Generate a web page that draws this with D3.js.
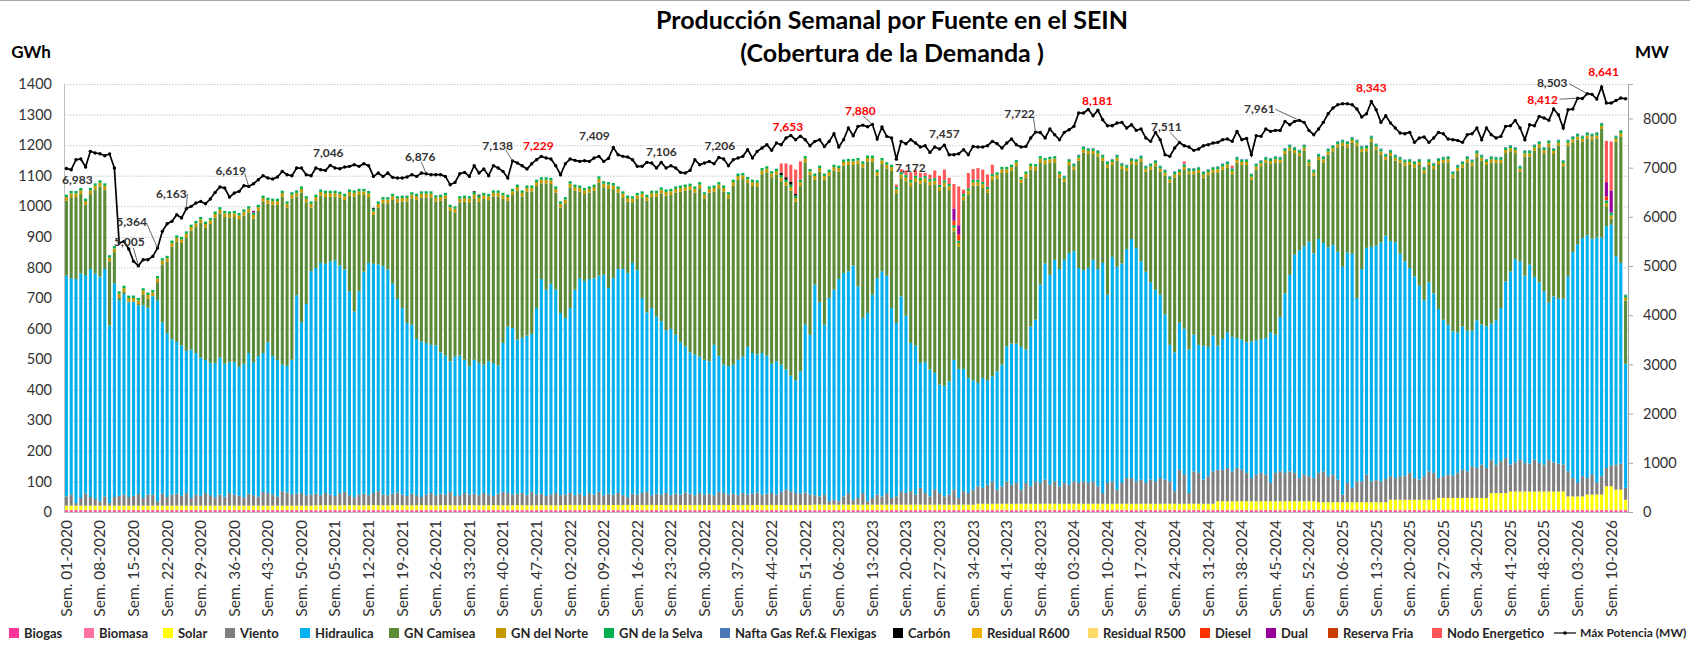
<!DOCTYPE html>
<html lang="es">
<head>
<meta charset="utf-8">
<title>Producción Semanal por Fuente en el SEIN</title>
<script src="https://cdn.jsdelivr.net/npm/d3@7/dist/d3.min.js"></script>
<style>
  body { margin: 0; background: #fff; }
  #chart text { font-family: Lato, "Open Sans", "DejaVu Sans", sans-serif; }
</style>
</head>
<body>
<svg id="chart"></svg>
<script>
// Weeks shown: year and number of weeks plotted in each year
const years = [2020, 2021, 2022, 2023, 2024, 2025, 2026];
const weeksPerYear = [52, 52, 52, 52, 53, 52, 13];

// Labels printed on the category axis (every 7 weeks)
const xTickLabels = [
  "Sem. 01-2020", "Sem. 08-2020", "Sem. 15-2020", "Sem. 22-2020", "Sem. 29-2020", "Sem. 36-2020", "Sem. 43-2020", "Sem. 50-2020",
  "Sem. 05-2021", "Sem. 12-2021", "Sem. 19-2021", "Sem. 26-2021", "Sem. 33-2021", "Sem. 40-2021", "Sem. 47-2021",
  "Sem. 02-2022", "Sem. 09-2022", "Sem. 16-2022", "Sem. 23-2022", "Sem. 30-2022", "Sem. 37-2022", "Sem. 44-2022", "Sem. 51-2022",
  "Sem. 06-2023", "Sem. 13-2023", "Sem. 20-2023", "Sem. 27-2023", "Sem. 34-2023", "Sem. 41-2023", "Sem. 48-2023",
  "Sem. 03-2024", "Sem. 10-2024", "Sem. 17-2024", "Sem. 24-2024", "Sem. 31-2024", "Sem. 38-2024", "Sem. 45-2024", "Sem. 52-2024",
  "Sem. 06-2025", "Sem. 13-2025", "Sem. 20-2025", "Sem. 27-2025", "Sem. 34-2025", "Sem. 41-2025", "Sem. 48-2025",
  "Sem. 03-2026", "Sem. 10-2026"
];
const leftTicks = [0, 100, 200, 300, 400, 500, 600, 700, 800, 900, 1000, 1100, 1200, 1300, 1400];
const rightTicks = [0, 1000, 2000, 3000, 4000, 5000, 6000, 7000, 8000];

// Weekly energy by source (GWh), one row block per year
const biogas = [
  3,3,3,3,3,3,3,3,3,3, 3,3,3,3,3,3,3,3,3,3, 3,3,3,3,3,3,3,3,3,3, 3,3,3,3,3,3,3,3,3,3, 3,3,3,3,3,3,3,3,3,3, 3,3,
  3,3,3,3,3,3,3,3,3,3, 3,3,3,3,3,3,3,3,3,3, 3,3,3,3,3,3,3,3,3,3, 3,3,3,3,3,3,3,3,3,3, 3,3,3,3,3,3,3,3,3,3, 3,3,
  3,3,3,3,3,3,3,3,3,3, 3,3,3,3,3,3,3,3,3,3, 3,3,3,3,3,3,3,3,3,3, 3,3,3,3,3,3,3,3,3,3, 3,3,3,3,3,3,3,3,3,3, 3,3,
  3,3,3,3,3,3,3,3,3,3, 3,3,3,3,3,3,3,3,3,3, 3,3,3,3,3,3,3,3,3,3, 3,3,3,3,3,3,3,3,3,3, 3,3,3,3,3,3,3,3,3,3, 3,3,
  3,3,3,3,3,3,3,3,3,3, 3,3,3,3,3,3,3,3,3,3, 3,3,3,3,3,3,3,3,3,3, 3,3,3,3,3,3,3,3,3,3, 3,3,3,3,3,3,3,3,3,3, 3,3,3,
  3,3,3,3,3,3,3,3,3,3, 3,3,3,3,3,3,3,3,3,3, 3,3,3,3,3,3,3,3,3,3, 3,3,3,3,3,3,3,3,3,3, 3,3,3,3,3,3,3,3,3,3, 3,3,
  3,3,3,3,3,3,3,3,3,3, 3,3,3
];
const biomasa = [
  4,4,4,4,4,4,4,4,4,4, 4,4,4,4,4,4,4,4,4,4, 4,4,4,4,4,4,4,4,4,4, 4,4,4,4,4,4,4,4,4,4, 4,4,4,4,4,4,4,4,4,4, 4,4,
  4,4,4,4,4,4,4,4,4,4, 4,4,4,4,4,4,4,4,4,4, 4,4,4,4,4,4,4,4,4,4, 4,4,4,4,4,4,4,4,4,4, 4,4,4,4,4,4,4,4,4,4, 4,4,
  4,4,4,4,4,4,4,4,4,4, 4,4,4,4,4,4,4,4,4,4, 4,4,4,4,4,4,4,4,4,4, 4,4,4,4,4,4,4,4,4,4, 4,4,4,4,4,4,4,4,4,4, 4,4,
  4,4,4,4,4,4,4,4,4,4, 4,4,4,4,4,4,4,4,4,4, 4,4,4,4,4,4,4,4,4,4, 4,4,4,4,4,4,4,4,4,4, 4,4,4,4,4,4,4,4,4,4, 4,4,
  4,4,4,4,4,4,4,4,4,4, 4,4,4,4,4,4,4,4,4,4, 4,4,4,4,4,4,4,4,4,4, 4,4,4,4,4,4,4,4,4,4, 4,4,4,4,4,4,4,4,4,4, 4,4,4,
  4,4,4,4,4,4,4,4,4,4, 4,4,4,4,4,4,4,4,4,4, 4,4,4,4,4,4,4,4,4,4, 4,4,4,4,4,4,4,4,4,4, 4,4,4,4,4,4,4,4,4,4, 4,4,
  4,4,4,4,4,4,4,4,4,4, 4,4,4
];
const solar = [
  14,14,14,14,14,14,14,14,14,14, 14,14,14,14,14,14,14,14,14,14, 14,14,14,14,14,14,14,14,14,14, 14,14,14,14,14,14,14,14,14,14, 14,14,14,14,14,14,14,14,14,14, 14,14,
  15,15,15,15,15,15,15,15,15,15, 15,15,15,15,15,15,15,15,15,15, 15,15,15,15,15,15,15,15,15,15, 15,15,15,15,15,15,15,15,15,15, 15,15,15,15,15,15,15,15,15,15, 15,15,
  16,16,16,16,16,16,16,16,16,16, 16,16,16,16,16,16,16,16,16,16, 16,16,16,16,16,16,16,16,16,16, 16,16,16,16,16,16,16,16,16,16, 16,16,16,16,16,16,16,16,16,16, 16,16,
  17,17,17,17,17,17,17,17,17,17, 17,17,17,17,17,17,17,17,17,17, 17,17,17,17,17,17,17,17,17,17, 17,17,17,17,20,20,20,20,20,20, 20,20,20,20,20,20,20,20,20,20, 20,20,
  20,20,20,20,20,20,20,20,20,20, 20,20,20,20,20,20,20,20,20,20, 20,20,20,20,20,20,20,20,20,20, 20,20,28,28,28,28,28,28,28,28, 28,28,28,28,28,28,28,28,28,28, 28,28,28,
  25,25,25,25,25,25,25,25,25,25, 25,25,25,25,25,33,33,33,33,33, 33,33,33,33,33,39,39,39,39,39, 39,39,39,39,39,39,55,55,55,55, 60,60,60,60,60,60,60,60,60,60, 60,60,
  44,44,44,44,50,50,50,50,77,77, 66,66,33
];
const viento = [
  30,36,8,25,39,28,22,14,30,8, 28,32,36,28,32,38,25,36,36,14, 39,28,36,39,32,41,25,36,32,41, 34,27,36,29,41,36,32,27,39,34, 29,44,41,36,29,47,43,37,39,41, 34,36,
  38,33,40,35,30,40,44,33,26,35, 38,33,40,46,35,33,38,42,35,30, 38,33,27,35,40,33,38,35,44,30, 33,40,35,38,33,40,35,30,38,44, 40,35,38,40,33,44,35,38,30,35, 40,33,
  34,39,32,37,29,39,34,43,32,37, 34,39,32,25,37,34,39,43,32,37, 34,39,32,37,34,41,37,32,39,34, 37,32,43,39,34,37,32,39,34,37, 41,34,37,39,34,43,50,45,39,37, 41,34,
  31,27,33,11,16,11,27,38,16,22, 38,11,22,33,27,38,22,27,44,38, 44,33,55,38,27,49,38,27,33,49, 22,44,38,49,57,52,62,73,46,57, 73,62,68,46,68,57,73,68,79,62, 73,57,
  68,62,73,68,73,68,73,57,35,68, 73,46,68,84,84,73,79,68,79,73, 84,79,73,41,111,95,35,106,101,79, 90,106,103,103,109,98,109,103,93,76, 87,93,87,60,93,98,93,98,93,76, 87,82,76,
  96,101,85,90,74,25,63,47,68,68, 90,68,72,68,76,77,71,77,79,88, 71,66,77,93,88,65,71,76,73,82, 92,87,103,98,109,98,109,93,104,115, 88,95,104,93,91,104,93,88,104,95, 91,88,
  82,60,44,66,54,65,40,60,60,68, 82,85,39
];
const hidraulica = [
  722,708,733,734,715,746,737,735,744,581, 699,640,656,637,635,617,630,611,649,657, 560,536,508,496,492,465,486,463,452,435, 433,439,448,435,428,433,422,437,460,435, 460,455,493,453,447,414,414,440,649,559, 625,731,
  738,760,750,763,771,744,727,667,608,665, 726,760,750,742,747,738,687,633,610,566, 553,511,509,496,485,490,462,455,427,457, 457,436,420,438,432,420,436,435,419,487, 545,545,504,508,522,517,610,702,675,690, 665,596,
  578,605,672,705,703,700,708,707,721,673, 708,733,740,734,755,734,638,587,612,580, 567,532,544,520,498,478,462,460,447,441, 433,492,445,420,420,422,443,447,483,460, 451,463,451,423,436,416,393,378,369,400, 549,523,
  689,635,556,665,687,727,731,725,766,692, 573,616,665,708,736,711,621,567,637,580, 485,487,408,428,415,382,355,362,370,425, 422,400,376,358,338,359,342,344,387,398, 442,462,456,467,436,523,529,649,707,686, 725,711,
  730,758,753,703,691,703,725,711,753,616, 734,729,718,749,782,764,714,691,645,627, 600,540,447,454,481,478,469,447,419,438, 423,444,406,428,444,440,425,426,427,447, 440,438,447,493,452,505,587,642,714,745, 747,767,735,
  765,747,749,751,745,745,754,766,600,695, 742,767,767,782,796,769,771,728,701,670, 660,634,576,618,587,553,512,491,472,459, 469,460,444,483,458,463,445,472,501,577, 632,665,649,613,651,598,591,567,514,543, 540,543,
  638,739,781,779,794,772,801,781,791,788, 682,657,406
];
const gnCamisea = [
  245,265,268,260,230,245,275,295,260,210, 102,9,7,2,0,4,36,30,0,60, 190,233,303,329,335,371,388,412,440,433, 454,476,472,480,473,475,483,485,460,470, 475,495,453,495,508,549,518,528,323,424, 333,208,
  220,220,219,211,208,222,228,313,376,315, 251,215,160,186,206,217,274,316,348,397, 413,455,471,476,482,471,496,512,492,471, 501,517,536,528,528,542,527,545,553,471, 411,435,487,462,471,465,400,313,348,326, 318,345,
  375,395,324,283,285,283,286,305,286,326, 291,250,234,233,198,233,329,365,364,391, 418,441,438,465,493,509,532,530,550,528, 552,501,548,566,549,585,589,580,536,547, 550,585,600,610,610,600,601,605,584,607, 531,522,
  343,427,474,400,389,351,351,348,329,400, 492,495,435,335,351,351,449,425,387,440, 513,536,587,589,603,617,633,652,626,420, 400,552,601,636,645,622,613,642,631,627, 567,565,580,536,563,513,489,400,325,367, 319,299,
  255,288,267,351,385,373,346,368,334,416, 301,347,309,256,245,271,326,327,369,404, 402,454,531,572,483,519,574,525,562,550, 562,532,567,554,539,532,573,571,580,529, 558,565,573,550,564,504,456,407,332,309, 313,249,254,
  259,264,303,307,342,396,344,362,498,383, 316,344,314,287,248,279,267,297,313,337, 356,395,416,384,407,474,513,531,503,529, 520,551,540,536,536,528,528,515,475,420, 393,347,293,390,354,413,442,452,511,466, 500,433,
  427,359,342,315,317,324,324,355,65,20, 374,414,206
];
const gnNorte = [
  12,12,12,12,12,12,12,12,12,12, 12,12,12,12,12,12,12,12,12,12, 12,12,12,12,12,12,12,12,12,12, 12,12,12,12,12,12,12,12,12,12, 12,12,12,12,12,12,12,12,12,12, 12,12,
  12,12,12,12,12,12,12,12,12,12, 12,12,12,12,12,12,12,12,12,12, 12,12,12,12,12,12,12,12,12,12, 12,12,12,12,12,12,12,12,12,12, 12,12,12,12,12,12,12,12,12,12, 12,12,
  12,12,12,12,12,12,12,12,12,12, 12,12,12,12,12,12,12,12,12,12, 12,12,12,12,12,12,12,12,12,12, 12,12,12,12,12,12,12,12,12,12, 12,12,12,12,12,12,12,12,12,12, 12,12,
  12,12,12,12,12,12,12,12,12,12, 12,12,12,12,12,12,12,12,12,12, 12,12,12,12,12,12,12,12,12,12, 12,12,12,12,12,12,12,12,12,12, 12,12,12,12,12,12,12,12,12,12, 12,12,
  10,10,10,10,10,10,10,10,10,10, 10,10,10,10,10,10,10,10,10,10, 10,10,10,10,10,10,10,10,10,10, 10,10,10,10,10,10,10,10,10,10, 10,10,10,10,10,10,10,10,10,10, 10,10,10,
  10,10,10,10,10,10,10,10,10,10, 10,10,10,10,10,10,10,10,10,10, 10,10,10,10,10,10,10,10,10,10, 10,10,10,10,10,10,10,10,10,10, 10,10,10,10,10,10,10,10,10,10, 10,10,
  10,10,10,10,10,10,10,10,10,10, 10,10,10
];
const gnSelva = [
  8,8,8,8,8,8,8,8,8,8, 8,8,8,8,8,8,8,8,8,8, 8,8,8,8,8,8,8,8,8,8, 8,8,8,8,8,8,8,8,8,8, 8,8,8,8,8,8,8,8,8,8, 8,8,
  8,8,8,8,8,8,8,8,8,8, 8,8,8,8,8,8,8,8,8,8, 8,8,8,8,8,8,8,8,8,8, 8,8,8,8,8,8,8,8,8,8, 8,8,8,8,8,8,8,8,8,8, 8,8,
  8,8,8,8,8,8,8,8,8,8, 8,8,8,8,8,8,8,8,8,8, 8,8,8,8,8,8,8,8,8,8, 8,8,8,8,8,8,8,8,8,8, 8,8,8,8,8,8,8,8,8,8, 8,8,
  8,8,8,8,8,8,8,8,8,8, 8,8,8,8,8,8,8,8,8,8, 8,8,8,8,8,8,8,8,8,8, 8,8,8,8,8,8,8,8,8,8, 8,8,8,8,8,8,8,8,8,8, 8,8,
  8,8,8,8,8,8,8,8,8,8, 8,8,8,8,8,8,8,8,8,8, 8,8,8,8,8,8,8,8,8,8, 8,8,8,8,8,8,8,8,8,8, 8,8,8,8,8,8,8,8,8,8, 8,8,8,
  8,8,8,8,8,8,8,8,8,8, 8,8,8,8,8,8,8,8,8,8, 8,8,8,8,8,8,8,8,8,8, 8,8,8,8,8,8,8,8,8,8, 8,8,8,8,8,8,8,8,8,8, 8,8,
  8,8,8,8,8,8,8,8,8,8, 8,8,8
];
const nafta = [
  0,0,0,0,0,0,0,0,0,0, 0,0,0,0,0,0,0,0,0,0, 0,0,0,0,0,0,0,0,0,0, 0,0,0,0,0,0,0,0,0,0, 0,0,0,0,0,0,0,0,0,0, 0,0,
  0,0,0,0,0,0,0,0,0,0, 0,0,0,0,0,0,0,0,0,0, 0,0,0,0,0,0,0,0,0,0, 0,0,0,0,0,0,0,0,0,0, 0,0,0,0,0,0,0,0,0,0, 0,0,
  0,0,0,0,0,0,0,0,0,0, 0,0,0,0,0,0,0,0,0,0, 0,0,0,0,0,0,0,0,0,0, 0,0,0,0,0,0,0,0,0,0, 0,0,0,0,0,0,0,0,0,0, 0,0,
  0,0,0,0,0,0,0,0,0,0, 0,0,0,0,0,0,0,0,0,0, 0,0,0,0,0,0,0,0,0,0, 0,0,0,0,0,0,0,0,0,0, 0,0,0,0,0,0,0,0,0,0, 0,0,
  2,2,2,2,2,2,2,2,2,2, 2,2,2,2,2,2,2,2,2,2, 2,2,2,2,2,2,2,2,2,2, 2,2,2,2,2,2,2,2,2,2, 2,2,2,2,2,2,2,2,2,2, 2,2,2,
  2,2,2,2,2,2,2,2,2,2, 2,2,2,2,2,2,2,2,2,2, 2,2,2,2,2,2,2,2,2,2, 2,2,2,2,2,2,2,2,2,2, 2,2,2,2,2,2,2,2,2,2, 2,2,
  2,2,2,2,2,2,2,2,2,2, 2,2,2
];
// Occasional sources: [week index, GWh]
const carbon = [[64, 3], [85, 3], [86, 3], [149, 8], [150, 8], [151, 10], [152, 5]];
const residualR600 = [];
const residualR500 = [];
const diesel = [[185, 15], [186, 20], [321, 12]];
const dual = [[39, 5], [185, 40], [186, 30], [321, 47], [322, 72]];
const reservaFria = [];
const nodoEnergetico = [
  [149, 30], [150, 45], [151, 55], [152, 80], [153, 60],
  [173, 8], [174, 10], [175, 15], [176, 25], [177, 20], [178, 15], [179, 10], [180, 15], [181, 25], [182, 30], [183, 35], [184, 20],
  [185, 80], [186, 127], [187, 15], [188, 50], [189, 35], [190, 38], [191, 40], [192, 40], [193, 30],
  [233, 8], [243, 8], [321, 135], [322, 160]
];

// Weekly maximum demand (MW)
const maxPotencia = [
  6983,6958,7161,7175,7012,7331,7297,7283,7243,7276, 6992,5467,5501,5346,5095,5005,5129,5129,5196,5364, 5705,5860,5908,6043,5976,6163,6213,6280,6314,6267, 6362,6497,6606,6585,6402,6484,6518,6633,6619,6673, 6755,6836,6789,6768,6809,6924,6856,6836,6992,6992, 6856,6836,
  6992,6958,6944,7046,6992,6978,7012,7026,7060,7026, 7080,7039,6822,6890,6822,6890,6802,6789,6789,6809, 6856,6822,6890,6876,6856,6856,6856,6822,6653,6700, 6876,6904,6822,7039,6890,6972,6836,7039,6992,6924, 6789,7138,7093,7039,6972,7080,7161,7229,7195,7175, 7039,6856,
  7080,7175,7148,7127,7141,7127,7195,7229,7127,7188, 7409,7263,7229,7215,7161,7026,7026,7107,7093,6992, 7106,6992,7039,6992,6904,6890,6944,7161,7060,7093, 7127,7080,7206,7175,7039,7161,7195,7229,7365,7195, 7331,7398,7466,7351,7500,7466,7602,7653,7568,7640, 7568,7446,
  7534,7568,7430,7534,7690,7419,7568,7805,7649,7839, 7865,7830,7880,7581,7825,7636,7602,7172,7534,7486, 7568,7500,7419,7446,7310,7419,7378,7457,7263,7263, 7283,7365,7263,7432,7419,7419,7446,7534,7486,7398, 7500,7581,7466,7419,7432,7602,7722,7715,7602,7785, 7669,7568,
  7717,7771,7839,8110,8110,8181,8056,8165,7974,7852, 7852,7907,7920,7805,7873,7757,7785,7602,7534,7717, 7568,7263,7229,7398,7511,7446,7419,7351,7378,7446, 7466,7500,7514,7568,7581,7534,7737,7568,7595,7263, 7649,7636,7785,7737,7757,7757,7940,7873,7940,7961, 7920,7757,7669,
  7785,7920,8096,8211,8279,8299,8299,8279,8191,8028, 8096,8343,8178,7920,8056,7907,7805,7703,7690,7717, 7514,7602,7622,7514,7602,7717,7690,7581,7568,7554, 7514,7669,7690,7805,7568,7805,7669,7602,7636,7839, 7852,7961,7805,7568,7873,7852,8042,8008,7961,8191, 8076,7805,
  8178,8191,8412,8405,8503,8490,8394,8641,8313,8313, 8367,8414,8400
];
// Weeks whose maximum is annotated; red ones are printed in red
const labelWeeks = [0, 15, 19, 25, 38, 55, 75, 93, 99, 114, 124, 136, 151, 168, 173, 183, 202, 213, 232, 257, 272, 315, 317, 320];
const redLabelWeeks = [99, 151, 168, 213, 272, 315, 320];

// ---------------------------------------------------------------------------
const width = 1690;
const height = 649;
const margin = { top: 84, right: 62, bottom: 137, left: 64 };
const plotRight = width - margin.right;
const plotBottom = height - margin.bottom;

const weekNames = [];
years.forEach((y, k) => {
    for (let w = 1; w <= weeksPerYear[k]; w++) weekNames.push(`Sem. ${String(w).padStart(2, '0')}-${y}`);
});
const N = weekNames.length;

// expand [index, value] lists into full weekly series
function expand(pairs) {
    const out = new Array(N).fill(0);
    pairs.forEach(([i, v]) => { out[i] = v; });
    return out;
}

const series = [
    { key: 'Biogas', values: biogas, color: '#FF3399' },
    { key: 'Biomasa', values: biomasa, color: '#FF6FA0' },
    { key: 'Solar', values: solar, color: '#FFFF00' },
    { key: 'Viento', values: viento, color: '#7F7F7F' },
    { key: 'Hidraulica', values: hidraulica, color: '#00B0F0' },
    { key: 'GN Camisea', values: gnCamisea, color: '#5B8B36' },
    { key: 'GN del Norte', values: gnNorte, color: '#C59800' },
    { key: 'GN de la Selva', values: gnSelva, color: '#00B050' },
    { key: 'Nafta Gas Ref.& Flexigas', values: nafta, color: '#4A78B5' },
    { key: 'Carbón', values: expand(carbon), color: '#000000' },
    { key: 'Residual R600', values: expand(residualR600), color: '#F2B300' },
    { key: 'Residual R500', values: expand(residualR500), color: '#FFD966' },
    { key: 'Diesel', values: expand(diesel), color: '#FF3300' },
    { key: 'Dual', values: expand(dual), color: '#990099' },
    { key: 'Reserva Fria', values: expand(reservaFria), color: '#C83C00' },
    { key: 'Nodo Energetico', values: expand(nodoEnergetico), color: '#FF5757' }
];
series.forEach(s => {
    if (s.values.length !== N) throw new Error(`${s.key}: ${s.values.length} values, expected ${N}`);
});
if (maxPotencia.length !== N) throw new Error(`maxPotencia: ${maxPotencia.length}`);

const rows = weekNames.map((w, i) => {
    const r = { week: w, idx: i };
    series.forEach(s => { r[s.key] = s.values[i]; });
    return r;
});
const stacked = d3.stack().keys(series.map(s => s.key))(rows);

const svg = d3.select('#chart')
    .attr('width', width)
    .attr('height', height)
    .attr('viewBox', `0 0 ${width} ${height}`);

const xScale = d3.scaleBand()
    .domain(d3.range(N))
    .range([margin.left, plotRight])
    .paddingInner(0.36)
    .paddingOuter(0.18);
const yLeft = d3.scaleLinear().domain([0, 1400]).range([plotBottom, margin.top]);
const yRight = d3.scaleLinear().domain([0, 8700]).range([plotBottom, margin.top]);
const xCenter = i => xScale(i) + xScale.bandwidth() / 2;

// chart border line at top
svg.append('line')
    .attr('x1', 0).attr('x2', width).attr('y1', 0.5).attr('y2', 0.5)
    .attr('stroke', '#A6A6A6');

// gridlines
svg.append('g')
    .attr('transform', `translate(${margin.left},0)`)
    .call(d3.axisLeft(yLeft).tickValues(leftTicks.slice(1)).tickSize(-(plotRight - margin.left)).tickFormat(''))
    .call(g => g.select('.domain').remove())
    .selectAll('line')
    .attr('stroke', '#C8C8C8')
    .attr('stroke-dasharray', '1.5,1.5');

// stacked bars
const layers = svg.append('g').attr('class', 'bars')
    .selectAll('g')
    .data(stacked)
    .join('g')
    .attr('fill', (d, i) => series[i].color);

layers.selectAll('rect')
    .data(d => d.filter(p => p[1] - p[0] > 0))
    .join('rect')
    .attr('x', d => xScale(d.data.idx))
    .attr('width', xScale.bandwidth())
    .attr('y', d => yLeft(d[1]))
    .attr('height', d => yLeft(d[0]) - yLeft(d[1]));

// axes
const leftAxis = svg.append('g')
    .attr('transform', `translate(${margin.left},0)`)
    .call(d3.axisLeft(yLeft).tickValues(leftTicks).tickSize(0).tickPadding(12).tickFormat(d3.format('d')));
leftAxis.select('.domain').attr('stroke', '#BFBFBF');
leftAxis.selectAll('text').attr('font-size', 14.5).attr('fill', '#333');

const rightAxis = svg.append('g')
    .attr('transform', `translate(${plotRight},0)`)
    .call(d3.axisRight(yRight).tickValues(rightTicks).tickSize(5).tickPadding(10).tickFormat(d3.format('d')));
rightAxis.select('.domain').attr('stroke', '#A6A6A6');
rightAxis.selectAll('line').attr('stroke', '#A6A6A6');
rightAxis.selectAll('text').attr('font-size', 14.5).attr('fill', '#333');

svg.append('line')
    .attr('x1', margin.left).attr('x2', plotRight)
    .attr('y1', plotBottom + 0.5).attr('y2', plotBottom + 0.5)
    .attr('stroke', '#BFBFBF');

const xAxis = svg.append('g')
    .attr('transform', `translate(0,${plotBottom})`)
    .call(d3.axisBottom(xScale)
        .tickValues(xTickLabels.map(t => weekNames.indexOf(t)))
        .tickFormat(i => weekNames[i])
        .tickSize(0));
xAxis.select('.domain').remove();
xAxis.selectAll('text')
    .attr('transform', 'rotate(-90)')
    .attr('text-anchor', 'end')
    .attr('x', -8)
    .attr('y', 0)
    .attr('dy', '0.35em')
    .attr('font-size', 15.5)
    .attr('fill', '#333');

// maximum demand line
const line = d3.line()
    .x((d, i) => xCenter(i))
    .y(d => yRight(d));
svg.append('path')
    .datum(maxPotencia)
    .attr('fill', 'none')
    .attr('stroke', '#000')
    .attr('stroke-width', 1.7)
    .attr('d', line);
svg.append('g')
    .selectAll('circle')
    .data(maxPotencia)
    .join('circle')
    .attr('cx', (d, i) => xCenter(i))
    .attr('cy', d => yRight(d))
    .attr('r', 1.7)
    .attr('fill', '#000');

// value labels: offset of label centre from the point, optional leader start
const labelLayout = {
    0: [11, 11], 15: [-9, -24, -5, -18], 19: [-26, -26, -11, -25], 25: [-15, -15, 1, -15],
    38: [-18, -16, -4, -13], 55: [-2, -13], 75: [-6, -17, -5, -12], 93: [-15, -15, -7, -11],
    99: [-3, -11], 114: [-19, -12], 124: [0, -11], 136: [1, -12], 151: [-3, -9],
    168: [-12, -14, -9, -8], 173: [14, 9], 183: [0, -11], 202: [-16, -18, -2, -14],
    213: [9, -9], 232: [-13, -16, -9, -10], 257: [-40, -12, -24, -11], 272: [0, -14],
    315: [-35, 2, -18, 1], 317: [-35, -11, -18, -10], 320: [2, -15]
};
const fmt = d3.format(',');
const labels = svg.append('g').attr('class', 'value-labels');
labelWeeks.forEach(i => {
    const px = xCenter(i), py = yRight(maxPotencia[i]);
    const [dx, dy, lx, ly] = labelLayout[i];
    if (lx !== undefined) {
        labels.append('line')
            .attr('x1', px + lx).attr('y1', py + ly)
            .attr('x2', px).attr('y2', py)
            .attr('stroke', '#404040').attr('stroke-width', 0.8);
    }
    labels.append('text')
        .attr('x', px + dx).attr('y', py + dy)
        .attr('dy', '0.35em')
        .attr('text-anchor', 'middle')
        .attr('font-size', 12)
        .attr('font-weight', 'bold')
        .attr('fill', redLabelWeeks.includes(i) ? '#FF0000' : '#333')
        .text(fmt(maxPotencia[i]));
});

// titles
svg.append('text')
    .attr('x', 892).attr('y', 29)
    .attr('text-anchor', 'middle')
    .attr('font-size', 25).attr('font-weight', 'bold')
    .text('Producción Semanal por Fuente en el SEIN');
svg.append('text')
    .attr('x', 892).attr('y', 62)
    .attr('text-anchor', 'middle')
    .attr('font-size', 25).attr('font-weight', 'bold')
    .text('(Cobertura de la Demanda )');
svg.append('text')
    .attr('x', 31).attr('y', 58)
    .attr('text-anchor', 'middle')
    .attr('font-size', 17).attr('font-weight', 'bold')
    .text('GWh');
svg.append('text')
    .attr('x', 1652).attr('y', 58)
    .attr('text-anchor', 'middle')
    .attr('font-size', 17).attr('font-weight', 'bold')
    .text('MW');

// legend
const legendX = [9, 84, 163, 225, 300, 389, 496, 604, 720, 893, 972, 1088, 1200, 1266, 1328, 1432];
const legendY = 633;
const legend = svg.append('g').attr('class', 'legend');
series.forEach((s, k) => {
    legend.append('rect')
        .attr('x', legendX[k]).attr('y', legendY - 5)
        .attr('width', 10).attr('height', 10)
        .attr('fill', s.color);
    legend.append('text')
        .attr('x', legendX[k] + 15).attr('y', legendY)
        .attr('dy', '0.35em')
        .attr('font-size', 13).attr('font-weight', 'bold')
        .attr('fill', '#262626')
        .text(s.key);
});
legend.append('line')
    .attr('x1', 1554).attr('x2', 1576).attr('y1', legendY).attr('y2', legendY)
    .attr('stroke', '#000').attr('stroke-width', 1.2);
legend.append('circle').attr('cx', 1565).attr('cy', legendY).attr('r', 1.8).attr('fill', '#000');
legend.append('text')
    .attr('x', 1580).attr('y', legendY)
    .attr('dy', '0.35em')
    .attr('font-size', 12).attr('font-weight', 'bold')
    .attr('fill', '#262626')
    .text('Máx Potencia (MW)');
</script>
</body>
</html>
